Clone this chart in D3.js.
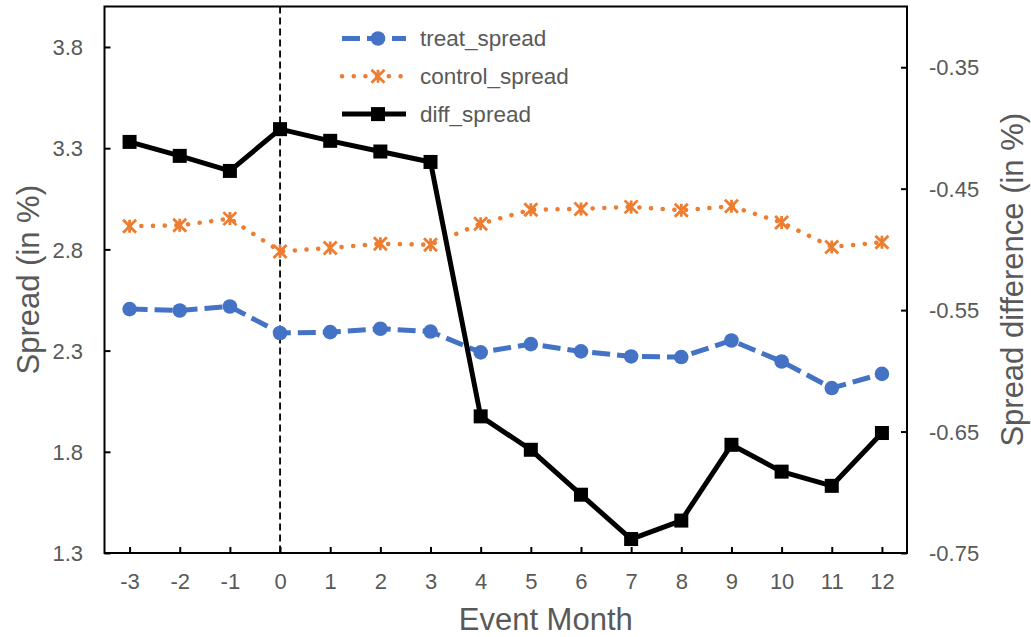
<!DOCTYPE html>
<html>
<head>
<meta charset="utf-8">
<script src="https://cdn.jsdelivr.net/npm/d3@7.9.0/dist/d3.min.js"></script>
<style>
  body { margin: 0; background: #fff; }
  svg text { font-family: "Liberation Sans", Arial, sans-serif; fill: #595959; }
</style>
</head>
<body>
<svg id="chart" width="1031" height="637"></svg>
<script>
const months = [-3, -2, -1, 0, 1, 2, 3, 4, 5, 6, 7, 8, 9, 10, 11, 12];
const treatSpread = [2.505, 2.498, 2.518, 2.387, 2.391, 2.408, 2.394, 2.291, 2.332, 2.296, 2.271, 2.268, 2.350, 2.246, 2.115, 2.185];
const controlSpread = [2.914, 2.919, 2.952, 2.790, 2.807, 2.828, 2.823, 2.927, 2.996, 3.000, 3.010, 2.993, 3.013, 2.933, 2.812, 2.835];
const diffSpread = [-0.4115, -0.423, -0.4354, -0.401, -0.4106, -0.4194, -0.428, -0.6375, -0.665, -0.702, -0.7385, -0.7233, -0.6609, -0.683, -0.6947, -0.6512];
const leftTicks = [1.3, 1.8, 2.3, 2.8, 3.3, 3.8];
const rightTicks = [-0.75, -0.65, -0.55, -0.45, -0.35];

const margin = { top: 6.5, right: 124, bottom: 84, left: 104.5 };
const width = 1031, height = 637;

const svg = d3.select("#chart");

const x = d3.scalePoint()
  .domain(months)
  .range([margin.left, width - margin.right])
  .padding(0.5);

const yLeft = d3.scaleLinear()
  .domain([1.3, 4.0])
  .range([height - margin.bottom, margin.top]);

const yRight = d3.scaleLinear()
  .domain([-0.75, -0.30])
  .range([height - margin.bottom, margin.top]);

const x0 = margin.left, x1 = width - margin.right;
const y0 = height - margin.bottom, y1 = margin.top;

// frame
svg.append("rect")
  .attr("x", x0).attr("y", y1)
  .attr("width", x1 - x0).attr("height", y0 - y1)
  .attr("fill", "none").attr("stroke", "#000").attr("stroke-width", 2);

// axes, ticks pointing inward
const axL = svg.append("g")
  .attr("transform", `translate(${x0},0)`)
  .call(d3.axisLeft(yLeft).tickValues(leftTicks).tickSize(-6).tickPadding(21.5).tickFormat(d3.format(".1f")));
const axR = svg.append("g")
  .attr("transform", `translate(${x1},0)`)
  .call(d3.axisRight(yRight).tickValues(rightTicks).tickSize(-6).tickPadding(22).tickFormat(d3.format(".2f")));
const axB = svg.append("g")
  .attr("transform", `translate(0,${y0})`)
  .call(d3.axisBottom(x).tickSize(-6).tickPadding(20));

[axL, axR, axB].forEach(g => {
  g.select(".domain").remove();
  g.selectAll(".tick line").attr("stroke", "#000").attr("stroke-width", 2);
  g.selectAll(".tick text").style("font-size", "22px").attr("fill", "#595959");
});
axL.selectAll(".tick text").attr("dy", "0.35em");
axR.selectAll(".tick text").attr("dy", "0.35em").text(d => d3.format(".2f")(d).replace("−", "-"));
axB.selectAll(".tick text").text(d => String(d));

// axis titles
svg.append("text")
  .attr("transform", `translate(28,${(y0 + y1) / 2}) rotate(-90)`)
  .attr("text-anchor", "middle").attr("dy", "0.35em")
  .style("font-size", "31px")
  .text("Spread (in %)");

svg.append("text")
  .attr("transform", `translate(1012,${(y0 + y1) / 2}) rotate(-90)`)
  .attr("text-anchor", "middle").attr("dy", "0.35em")
  .style("font-size", "31px")
  .text("Spread difference (in %)");

svg.append("text")
  .attr("x", (x0 + x1) / 2 + 40)
  .attr("y", 630)
  .attr("text-anchor", "middle")
  .style("font-size", "31px")
  .text("Event Month");

// event line at month 0
svg.append("line")
  .attr("x1", x(0)).attr("x2", x(0))
  .attr("y1", y1).attr("y2", y0)
  .attr("stroke", "#000").attr("stroke-width", 1.8)
  .attr("stroke-dasharray", "7,4");

const blue = "#4472C4", orange = "#ED7D31";

const lineL = d3.line().x((d, i) => x(months[i])).y(d => yLeft(d));
const lineR = d3.line().x((d, i) => x(months[i])).y(d => yRight(d));

// treat
svg.append("path").datum(treatSpread)
  .attr("d", lineL).attr("fill", "none")
  .attr("stroke", blue).attr("stroke-width", 5)
  .attr("stroke-dasharray", "18,7");
svg.selectAll(".treat").data(treatSpread).join("circle")
  .attr("cx", (d, i) => x(months[i])).attr("cy", d => yLeft(d))
  .attr("r", 7.3).attr("fill", blue);

// control
svg.append("path").datum(controlSpread)
  .attr("d", lineL).attr("fill", "none")
  .attr("stroke", orange).attr("stroke-width", 4.5)
  .attr("stroke-linecap", "round")
  .attr("stroke-dasharray", "0.1,11.6");

function star(s) {
  const h = s / 2;
  return `M0,${-h}V${h}M${-h},${-h}L${h},${h}M${h},${-h}L${-h},${h}`;
}
svg.selectAll(".ctrl").data(controlSpread).join("path")
  .attr("transform", (d, i) => `translate(${x(months[i])},${yLeft(d)})`)
  .attr("d", star(13)).attr("fill", "none")
  .attr("stroke", orange).attr("stroke-width", 2.8);

// diff
svg.append("path").datum(diffSpread)
  .attr("d", lineR).attr("fill", "none")
  .attr("stroke", "#000").attr("stroke-width", 5)
  .attr("stroke-linejoin", "round");
svg.selectAll(".diff").data(diffSpread).join("rect")
  .attr("x", (d, i) => x(months[i]) - 7).attr("y", d => yRight(d) - 7)
  .attr("width", 14).attr("height", 14).attr("fill", "#000");

// legend
const legend = [
  { name: "treat_spread", color: blue, dash: "18,7", w: 5, cap: "butt", mark: "circle" },
  { name: "control_spread", color: orange, dash: "0.1,11.6", w: 4.5, cap: "round", mark: "star" },
  { name: "diff_spread", color: "#000", dash: null, w: 5, cap: "butt", mark: "square" }
];
const lg = svg.append("g");
legend.forEach((l, i) => {
  const ly = 38.5 + i * 37.8;
  const g = lg.append("g");
  g.append("line")
    .attr("x1", 342).attr("x2", 406).attr("y1", ly).attr("y2", ly)
    .attr("stroke", l.color).attr("stroke-width", l.w)
    .attr("stroke-linecap", l.cap)
    .attr("stroke-dasharray", l.dash);
  if (l.mark === "circle") {
    g.append("circle").attr("cx", 378).attr("cy", ly).attr("r", 7.3).attr("fill", l.color);
  } else if (l.mark === "star") {
    g.append("path").attr("transform", `translate(378,${ly})`).attr("d", star(13))
      .attr("stroke", l.color).attr("stroke-width", 2.8).attr("fill", "none");
  } else {
    g.append("rect").attr("x", 371).attr("y", ly - 7).attr("width", 14).attr("height", 14).attr("fill", "#000");
  }
  g.append("text")
    .attr("x", 420).attr("y", ly).attr("dy", "0.35em")
    .style("font-size", "22.5px")
    .text(l.name);
});
</script>
</body>
</html>
